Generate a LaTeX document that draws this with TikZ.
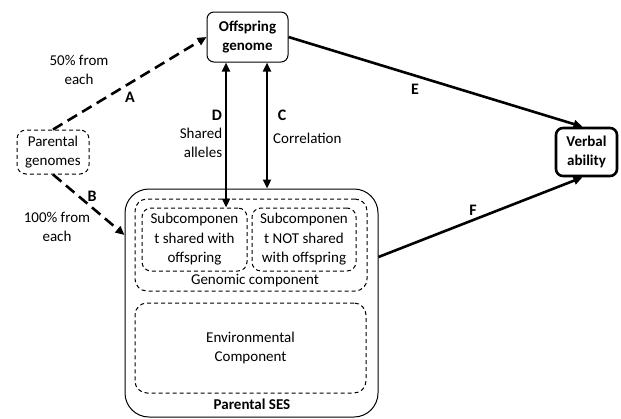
\documentclass[tikz,border=0pt]{standalone}
\usepackage{fontspec}
\setmainfont{Carlito}
\usetikzlibrary{arrows.meta}
\begin{document}
\begin{tikzpicture}[x=1pt,y=-1pt,
  font=\fontsize{15}{19.5}\selectfont,
  box/.style={draw, rounded corners=7pt, align=center, inner sep=0pt, line width=1pt},
  dbox/.style={draw, dashed, dash pattern=on 4pt off 3pt, rounded corners=9pt, align=center, inner sep=0pt, line width=1pt},
  solidarr/.style={line width=2.6pt, -{Triangle[length=9pt,width=8pt]}},
  dualarr/.style={line width=2.6pt, {Triangle[length=9pt,width=8pt]}-{Triangle[length=9pt,width=8pt]}},
  dasharr/.style={line width=2.6pt, dash pattern=on 11pt off 6pt, -{Triangle[length=9pt,width=8pt]}},
  lbl/.style={font=\fontsize{16}{19}\selectfont\bfseries, inner sep=0pt},
  txt/.style={align=center, inner sep=0pt}]
\useasboundingbox (0,0) rectangle (621,418);

% nodes
\node[box, minimum width=81pt, minimum height=50pt, font=\fontsize{15}{19.5}\selectfont\bfseries] (off) at (247.5,37) {Offspring\\genome};
\node[dbox, minimum width=72pt, minimum height=44pt] (pg) at (53,152) {Parental\\genomes};
\node[box, line width=2.6pt, minimum width=61pt, minimum height=48pt, font=\fontsize{15}{19.5}\selectfont\bfseries] (va) at (586.5,152) {Verbal\\ability};
\node[box, rounded corners=24pt, minimum width=253pt, minimum height=228pt] (ses) at (251.5,303) {};
\node[dbox, rounded corners=12pt, minimum width=232pt, minimum height=92pt] (gen) at (251,245) {};
\node[dbox, minimum width=105pt, minimum height=63pt] (s1) at (194.5,239.5) {Subcomponen\\t shared with\\offspring};
\node[dbox, minimum width=104pt, minimum height=63pt] (s2) at (304,239.5) {Subcomponen\\t NOT shared\\with offspring};
\node[dbox, rounded corners=12pt, minimum width=231pt, minimum height=90pt] (env) at (250.5,348) {Environmental\\Component};
\node[txt] (gentxt) at (255,281) {Genomic component};
\node[txt, font=\fontsize{15}{19.5}\selectfont\bfseries] (sestxt) at (252,404) {Parental SES};

% connectors
\draw[dasharr] (pg.north) -- (off.west);
\draw[dasharr] (pg.south) -- ([yshift=68pt]ses.west);
\draw[dualarr] ([xshift=-21.5pt]off.south) -- ([xshift=31.5pt]s1.north);
\draw[dualarr] ([xshift=19.5pt]off.south) -- ([xshift=15.5pt]ses.north);
\draw[solidarr] (off.east) -- ([xshift=-4pt]va.north);
\draw[solidarr] ([yshift=46pt]ses.east) -- ([xshift=-4pt]va.south);

% labels
\node[txt] (t50) at (79,70) {50\% from\\each};
\node[lbl] (la) at (130,97) {A};
\node[lbl] (lb) at (92,196) {B};
\node[txt] (t100) at (57,227) {100\% from\\each};
\node[lbl] (ld) at (217,115) {D};
\node[txt, align=right] (tsh) at (201,143) {Shared\\alleles};
\node[lbl] (lc) at (282,115) {C};
\node[txt, anchor=west] (tcor) at (273,138) {Correlation};
\node[lbl] (le) at (415,89) {E};
\node[lbl] (lf) at (473,210) {F};
\end{tikzpicture}
\end{document}
